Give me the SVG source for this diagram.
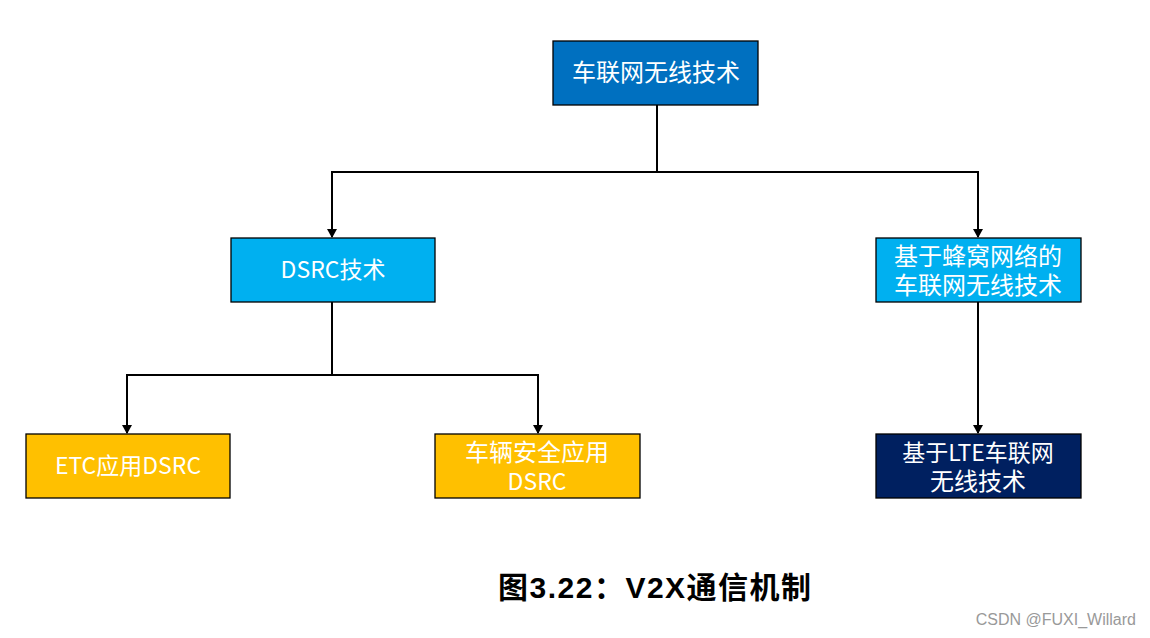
<svg xmlns="http://www.w3.org/2000/svg" width="1150" height="638" viewBox="0 0 1150 638">
<style>
.box{stroke:#000;stroke-width:1.3}
.t{font-family:"Noto Sans CJK SC","Noto Sans",sans-serif;font-size:24px;fill:#fff;text-anchor:middle}
.m{font-size:23px}
.ln{fill:none;stroke:#000;stroke-width:2}
</style>
<defs>
<marker id="ah" markerWidth="10" markerHeight="10" refX="8" refY="5" orient="auto" markerUnits="userSpaceOnUse">
<path d="M0,0 L9,5 L0,10 z" fill="#000"/>
</marker>
</defs>
<rect width="1150" height="638" fill="#fff"/>
<g id="connectors">
<path class="ln" d="M657,105 V172 H332 V237" marker-end="url(#ah)"/>
<path class="ln" d="M657,172 H978 V237" marker-end="url(#ah)"/>
<path class="ln" d="M332,302 V375 H127 V433" marker-end="url(#ah)"/>
<path class="ln" d="M332,375 H538 V433" marker-end="url(#ah)"/>
<path class="ln" d="M978,302 V433" marker-end="url(#ah)"/>
</g>
<g id="n-root">
<rect class="box" x="553" y="41" width="205" height="64" fill="#0070C0"/>
<text class="t" x="656" y="81">车联网无线技术</text>
</g>
<g id="n-dsrc">
<rect class="box" x="231" y="238" width="204" height="64" fill="#00B0F0"/>
<text class="t m" x="333" y="278">DSRC技术</text>
</g>
<g id="n-cell">
<rect class="box" x="876" y="238" width="205" height="64" fill="#00B0F0"/>
<text class="t" x="978" y="265"><tspan x="978">基于蜂窝网络的</tspan><tspan x="978" dy="29">车联网无线技术</tspan></text>
</g>
<g id="n-etc">
<rect class="box" x="26" y="434" width="204" height="64" fill="#FFC000"/>
<text class="t m" x="128" y="474">ETC应用DSRC</text>
</g>
<g id="n-safety">
<rect class="box" x="435" y="434" width="205" height="64" fill="#FFC000"/>
<text class="t" x="537" y="461"><tspan x="537">车辆安全应用</tspan><tspan x="537" dy="29" font-size="23">DSRC</tspan></text>
</g>
<g id="n-lte">
<rect class="box" x="876" y="434" width="205" height="64" fill="#002060"/>
<text class="t" x="978" y="461"><tspan x="978" font-size="23">基于LTE车联网</tspan><tspan x="978" dy="29">无线技术</tspan></text>
</g>
<text x="498" y="598" font-family="'Liberation Sans','Noto Sans CJK SC',sans-serif" font-size="30" font-weight="bold" letter-spacing="1.5" fill="#000">图3.22：V2X通信机制</text>
<text x="1136" y="625" text-anchor="end" font-family="'Liberation Sans',sans-serif" font-size="16" fill="#999">CSDN @FUXI_Willard</text>
</svg>
